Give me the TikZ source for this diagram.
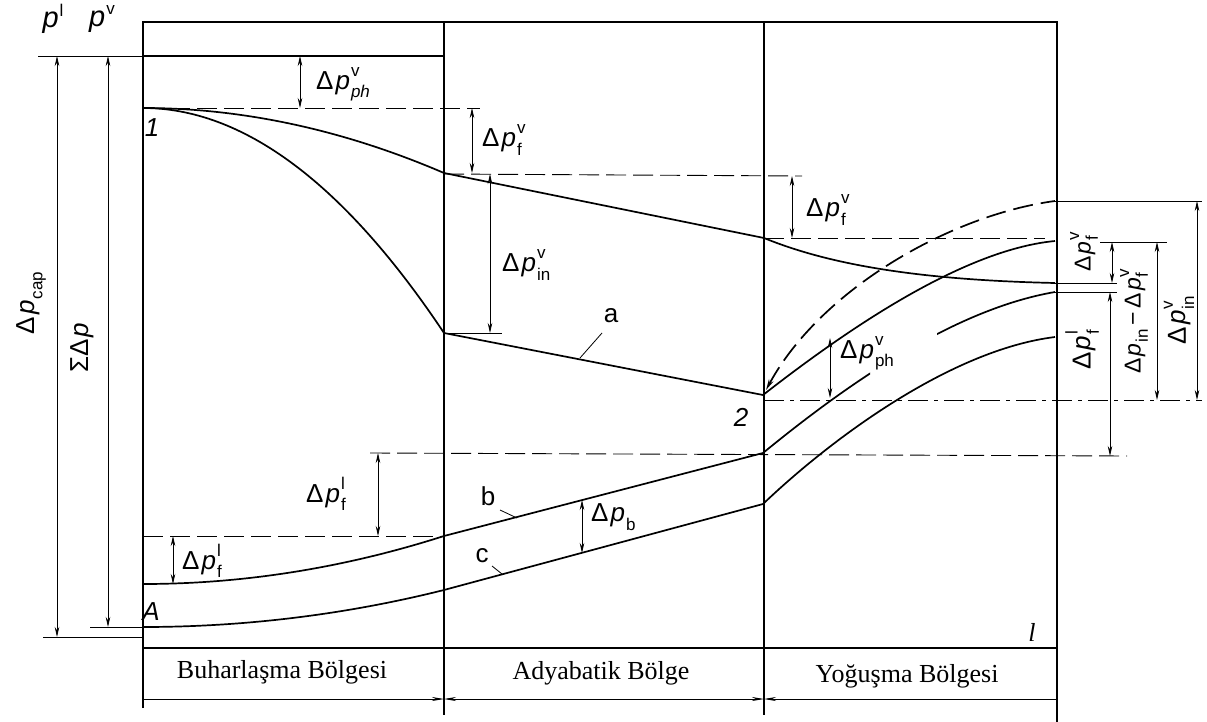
\documentclass[tikz,border=0pt]{standalone}
\usepackage{fontspec}
\setmainfont{Liberation Serif}
\newfontfamily\labfont{Liberation Sans}
\usetikzlibrary{arrows.meta}
\newcommand\smallsz{\fontsize{17}{17}\selectfont}
\newcommand\Dlab[2]{Δ\kern2pt\textit{p}\kern1pt\makebox[0pt][l]{\raisebox{0.5em}{\smallsz #1}}\raisebox{-0.32em}{\smallsz #2}}
\tikzset{
  frame/.style={line width=1.1pt},
  curve/.style={line width=1.7pt},
  ext/.style={line width=0.8pt},
  dim/.style={line width=0.8pt,{Stealth[length=10pt,width=4.5pt]}-{Stealth[length=10pt,width=4.5pt]}},
  dsh/.style={line width=0.9pt,dash pattern=on 20pt off 7pt},
  dshdot/.style={line width=0.9pt,dash pattern=on 20pt off 6pt on 4pt off 6pt},
  lbl/.style={font=\labfont\fontsize{26}{26}\selectfont,inner sep=0pt},
  lbls/.style={font=\labfont\fontsize{23}{23}\selectfont,inner sep=0pt},
  pt/.style={font=\labfont\itshape\fontsize{26}{26}\selectfont,inner sep=0pt},
  zone/.style={font=\fontsize{26}{26}\selectfont,inner sep=0pt},
}
\begin{document}
\begin{tikzpicture}[x=1pt,y=-1pt]
\useasboundingbox (0,0) rectangle (1207,722);
% key points
\coordinate (P1) at (143,108);
\coordinate (P2) at (763,395);
\coordinate (A) at (143,627);
\coordinate (B) at (143,584);
% frame
\draw[frame] (143,708) -- (143,22) -- (1057,22) -- (1057,722);
\draw[frame] (444,22) -- (444,715);
\draw[frame] (764,22) -- (764,715);
\draw[frame] (143,648) -- (1057,648);
\draw[ext,-{Stealth[length=12pt,width=4pt]}] (143,699) -- (444,699);
\draw[ext,{Stealth[length=12pt,width=4pt]}-{Stealth[length=12pt,width=4pt]}] (444,699) -- (764,699);
\draw[ext,{Stealth[length=12pt,width=4pt]}-] (764,699) -- (1057,699);
\node[zone] (z1) at (282,672) {Buharlaşma Bölgesi};
\node[zone] (z2) at (601,673) {Adyabatik Bölge};
\node[zone] (z3) at (907,676) {Yoğuşma Bölgesi};
\node[font=\itshape\fontsize{26}{26}\selectfont,inner sep=0pt] (lx) at (1032,632) {l};
% top-left
\draw[ext] (38,56) -- (143,56);
\draw[curve] (143,56) -- (444,56);
\draw[dim] (57,56) -- (57,637);
\draw[ext] (43,637) -- (143,637);
\draw[dim] (108,56) -- (108,627);
\draw[ext] (90,627) -- (A);
\node[lbl,font=\labfont\fontsize{29}{29}\selectfont] (pl) at (53,19) {\textit{p}\kern1pt\raisebox{0.4em}{\smallsz l}};
\node[lbl,font=\labfont\fontsize{29}{29}\selectfont] (pv) at (102,19) {\textit{p}\kern1pt\raisebox{0.4em}{\smallsz v}};
\node[lbl,rotate=90] (dcap) at (31,303) {\Dlab{}{cap}};
\node[lbl,rotate=90] (sdp) at (82,348) {ΣΔ\kern2pt\textit{p}};
% vapour curves
\draw[curve] (P1) .. controls (243,108) and (344,130) .. (444,173) -- (764,238)
  .. controls (830,265) and (920,280) .. (1055,283);
\draw[curve] (P1) .. controls (243,108) and (344,183) .. (444,333) -- (P2);
\node[pt] (n1) at (152,128) {1};
\node[pt] (n2) at (741,417) {2};
% upper dims
\draw[dsh] (P1) -- (480,108);
\draw[dim] (300,56) -- (300,108);
\node[lbl,anchor=west] (l1) at (316,84) {\Dlab{v}{\textit{ph}}};
\draw[dim] (472,108) -- (472,173);
\node[lbl,anchor=west] (l2) at (482,140) {\Dlab{v}{f}};
\draw[dsh] (444,174) -- (802,176);
\draw[dim] (490,174) -- (490,333);
\draw[ext] (444,333) -- (502,333);
\node[lbl,anchor=west] (l3) at (502,265) {\Dlab{v}{in}};
\draw[dim] (792,176) -- (792,238);
\node[lbl,anchor=west] (l4) at (806,210) {\Dlab{v}{f}};
\draw[dsh] (764,238) -- (1045,238);
% a label
\draw[ext] (602,333) -- (580,358);
\node[lbl] (la) at (611,316) {a};
% condensation zone
\draw[curve,dash pattern=on 20pt off 8pt,{Stealth[length=11pt,width=5pt]}-] (766,390) .. controls (820,290) and (950,215) .. (1055,201);
\draw[curve] (P2) .. controls (840,335) and (960,250) .. (1055,241);
\begin{scope}
\clip (700,0) rectangle (870,722) (937,0) rectangle (1207,722);
\draw[curve] (763,453) .. controls (840,390) and (950,310) .. (1055,292);
\end{scope}
\draw[curve] (763,504) .. controls (830,440) and (950,350) .. (1055,337);
\draw[dim] (830,338) -- (830,398);
\node[lbl,anchor=west] (l5) at (840,353) {\Dlab{v}{ph}};
\draw[dshdot] (764,400) -- (1202,400);
% right dims
\draw[ext] (1055,201) -- (1202,201);
\draw[dim] (1197,201) -- (1197,400);
\node[lbl,rotate=90] (r1) at (1179,320) {\Dlab{v}{in}};
\draw[ext] (1100,242) -- (1167,242);
\draw[dim] (1157,242) -- (1157,400);
\node[lbls,rotate=90] (r2) at (1134,323) {\Dlab{}{in}\,−\,\Dlab{v}{f}};
\draw[ext] (1055,283) -- (1117,283);
\draw[dim] (1112,242) -- (1112,283);
\node[lbls,rotate=90] (r3) at (1084,254) {\Dlab{v}{f}};
\draw[ext] (1055,292) -- (1117,292);
\draw[dim] (1110,292) -- (1110,456);
\node[lbl,rotate=90] (r4) at (1082,350) {\Dlab{l}{f}};
% liquid
\draw[dsh] (370,453) -- (1127,456);
\draw[dsh] (143,536) -- (444,536);
\draw[curve] (B) .. controls (243,584) and (344,568) .. (444,536) -- (763,453);
\draw[curve] (A) .. controls (243,627) and (344,615) .. (444,590) -- (763,504);
\draw[dim] (173,536) -- (173,584);
\node[lbl,anchor=west] (l6) at (182,561) {\Dlab{l}{f}};
\draw[dim] (378,453) -- (378,536);
\node[lbl,anchor=west] (l7) at (306,494) {\Dlab{l}{f}};
\draw[dim] (582,500) -- (582,553);
\node[lbl,anchor=west] (l8) at (591,517) {\Dlab{}{b}};
\draw[ext] (500,510) -- (517,518);
\node[lbl] (lb) at (488,496) {b};
\draw[ext] (492,566) -- (502,574);
\node[lbl] (lc) at (482,556) {c};
\node[pt] (nA) at (151,612) {A};
\end{tikzpicture}
\end{document}
